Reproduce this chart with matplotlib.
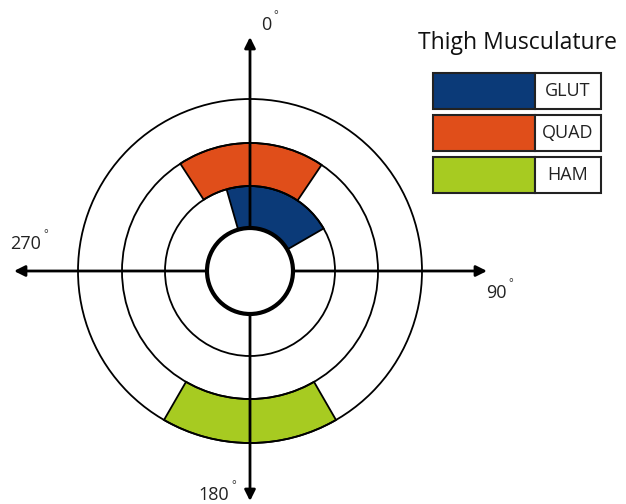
import matplotlib
matplotlib.use("Agg")
import matplotlib.pyplot as plt
from matplotlib.patches import Wedge, Circle, Rectangle

plt.rcParams['font.family'] = ['Open Sans', 'DejaVu Sans']

# data: each muscle group occupies a ring and a compass range (deg, clockwise from 0 at top)
muscles = ["GLUT", "QUAD", "HAM"]
colors = ["#0b3a78", "#e04e1a", "#a7cb21"]
start_deg = [-16, -33, 150]
end_deg = [60, 34, 210]
ring_inner = [43, 85, 128]
ring_outer = [85, 128, 172]
ring_radii = [85, 128, 172]
hub_radius = 43
compass_labels = ["0", "90", "180", "270"]

fig = plt.figure(figsize=(6.26, 5.04), dpi=100)
ax = fig.add_axes([0, 0, 1, 1])
# axis units are pixels, origin at the polar centre
ax.set_xlim(-250, 376)
ax.set_ylim(-233, 271)
ax.set_aspect("equal")
ax.axis("off")

# coloured sectors
for name, c, a, b, r0, r1 in zip(muscles, colors, start_deg, end_deg, ring_inner, ring_outer):
    ax.add_patch(Wedge((0, 0), r1, 90 - b, 90 - a, width=r1 - r0,
                       facecolor=c, edgecolor="black", lw=1.3, zorder=2))

# rings
for r in ring_radii:
    ax.add_patch(Circle((0, 0), r, fill=False, edgecolor="black", lw=1.3, zorder=3))

# axes arrows
arrow = dict(arrowstyle="<|-|>", color="black", lw=2, mutation_scale=16,
             shrinkA=0, shrinkB=0)
ax.annotate("", xy=(0, 234), xytext=(0, -230), arrowprops=arrow, zorder=4)
ax.annotate("", xy=(-236, 0), xytext=(237, 0), arrowprops=arrow, zorder=4)

# hub
ax.add_patch(Circle((0, 0), hub_radius, facecolor="white", edgecolor="black",
                    lw=3, zorder=5))

# compass labels
pos = [(16, 246), (246, -22), (-36, -224), (-224, 27)]
for lab, (x, y) in zip(compass_labels, pos):
    ax.text(x, y, lab, fontsize=13, color="#222222", ha="center", va="center")
    ax.text(x + len(lab) * 5.3 + 4, y + 9, "°", fontsize=8, color="#222222",
            ha="center", va="center")

# legend
ax.text(267, 228, "Thigh Musculature", fontsize=16.5, color="#111111",
        ha="center", va="center")
tops = [198, 156, 114]
for name, c, y in zip(muscles, colors, tops):
    ax.add_patch(Rectangle((183, y - 36), 102, 36, facecolor=c,
                           edgecolor="#222222", lw=1.5))
    ax.add_patch(Rectangle((285, y - 36), 66, 36, facecolor="white",
                           edgecolor="#222222", lw=1.5))
    ax.text(318, y - 18, name, fontsize=13, color="#222222",
            ha="center", va="center")

fig.savefig("out.png", dpi=100)
